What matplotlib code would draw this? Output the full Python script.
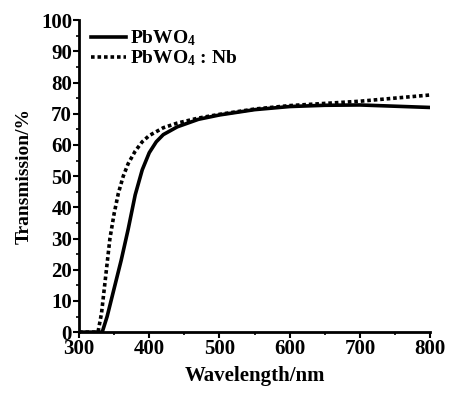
import matplotlib
matplotlib.use("Agg")
import matplotlib.pyplot as plt
from matplotlib.ticker import MultipleLocator

plt.rcParams["font.family"] = "Liberation Serif"
plt.rcParams["font.weight"] = "bold"
plt.rcParams["axes.labelweight"] = "bold"
plt.rcParams["mathtext.fontset"] = "custom"
plt.rcParams["mathtext.rm"] = "Liberation Serif:bold"
plt.rcParams["mathtext.default"] = "regular"

# PbWO4 (solid)
wl_pure = [300, 325, 333, 340, 350, 360, 370, 380, 390, 400, 410, 420, 440,
           470, 500, 550, 600, 650, 700, 750, 800]
tr_pure = [0, 0, 0, 5, 14, 23, 33, 44, 52, 57.5, 61, 63.3, 65.8,
           68.2, 69.6, 71.3, 72.3, 72.7, 72.8, 72.4, 72.0]

# PbWO4:Nb (dotted)
wl_nb = [300, 320, 327, 332, 338, 344, 350, 356, 363, 370, 380, 390, 400,
         420, 440, 470, 500, 550, 600, 650, 700, 750, 800]
tr_nb = [0, 0, 0, 6, 18, 30, 38, 44.5, 50, 54, 58, 61, 63,
         65.5, 67, 68.6, 69.8, 71.5, 72.6, 73.3, 74.0, 75.0, 76.0]

fig = plt.figure(figsize=(4.49, 3.94), dpi=100)
ax = fig.add_axes([0.176, 0.157, 0.782, 0.792])

ax.plot(wl_pure, tr_pure, color="black", lw=2.6, label="PbWO$_4$")
ax.plot(wl_nb, tr_nb, color="black", lw=2.6, linestyle=(0, (1, 0.8)),
        label="PbWO$_4$ : Nb")

ax.set_xlim(300, 800)
ax.set_ylim(0, 100)
ax.xaxis.set_major_locator(MultipleLocator(100))
ax.xaxis.set_minor_locator(MultipleLocator(50))
ax.yaxis.set_major_locator(MultipleLocator(10))
ax.yaxis.set_minor_locator(MultipleLocator(5))

for side in ["top", "right"]:
    ax.spines[side].set_visible(False)
for side in ["left", "bottom"]:
    ax.spines[side].set_linewidth(2)

ax.tick_params(which="major", direction="out", length=4, width=1.5,
               labelsize=15, pad=1)
ax.tick_params(which="minor", direction="out", length=2.5, width=1.2)

ax.set_xlabel("Wavelength/nm", fontsize=15, labelpad=5)
ax.set_ylabel("Transmission/%", fontsize=14, labelpad=6)

ax.legend(loc="upper left", bbox_to_anchor=(0.0, 1.01), frameon=False,
          fontsize=14, handlelength=1.8, handletextpad=0.2,
          labelspacing=0.0, borderaxespad=0.2)

fig.savefig("out.png", dpi=100)
